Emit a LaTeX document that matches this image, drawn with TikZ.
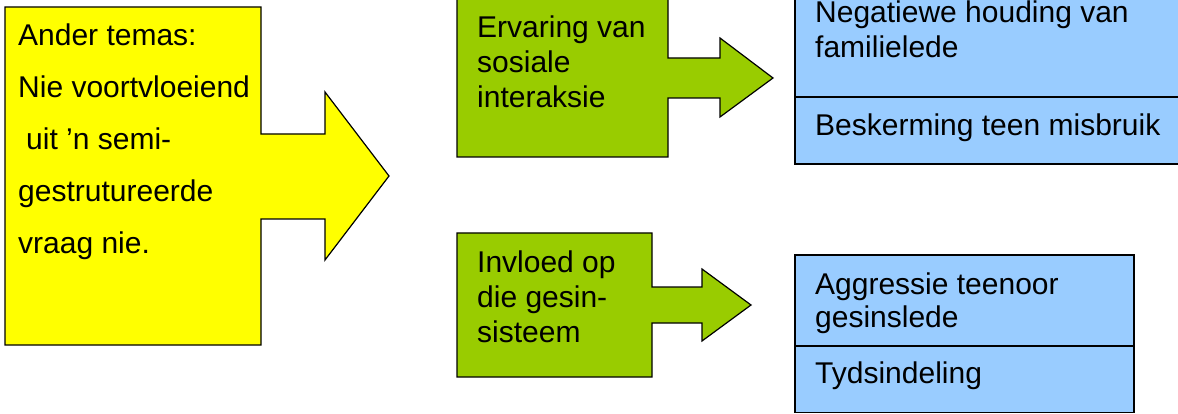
\documentclass[tikz,border=0pt]{standalone}
\usepackage{fontspec}
\setmainfont{Liberation Sans}
\definecolor{geel}{HTML}{FFFF00}
\definecolor{groen}{HTML}{99CC00}
\definecolor{blou}{HTML}{99CCFF}

\begin{document}
\begin{tikzpicture}[x=1pt, y=-1pt, callout/.style = {draw, line width=1.2pt, line join=miter}, cell/.style = {draw, line width=1.2pt, fill=blou}, tekst/.style = {anchor=north west, inner sep=0pt, align=left, font=\fontsize{30}{35}\selectfont}]
	\useasboundingbox (0,0) rectangle (1178,414);
	\clip (0,0) rectangle (1178,414);
	% pyl-vorms
	\draw[callout, fill=geel] (5,7) -- (261,7) -- (261,134) -- (325,134) -- (325,92) -- (389,176) -- (325,260) -- (325,219) -- (261,219) -- (261,345) -- (5,345) -- cycle;
	\draw[callout, fill=groen] (457,-10) -- (668,-10) -- (668,58) -- (720,58) -- (720,38) -- (773,78) -- (720,117) -- (720,98) -- (668,98) -- (668,157) -- (457,157) -- cycle;
	\draw[callout, fill=groen] (457,233) -- (652,233) -- (652,287) -- (702,287) -- (702,269) -- (751,305) -- (702,341) -- (702,323) -- (652,323) -- (652,377) -- (457,377) -- cycle;
	% tabelle
	\draw[cell] (795,-10) rectangle (1190,97);
	\draw[cell] (795,97) rectangle (1190,164);
	\draw[cell] (795,255) rectangle (1134,346);
	\draw[cell] (795,346) rectangle (1134,412.5);
	% tekste
	\node[tekst, font=\fontsize{30}{52}\selectfont] (temas) at (18,24) {Ander temas:\\Nie voortvloeiend\\\hspace*{8pt}uit ’n semi-\\gestrutureerde\\vraag nie.};
	\node[tekst] (ervaring) at (477,15.2) {Ervaring van\\sosiale\\interaksie};
	\node[tekst] (invloed) at (477,250.2) {Invloed op\\die gesin-\\sisteem};
	\node[tekst] (houding) at (815,0.2) {Negatiewe houding van\\familielede};
	\node[tekst] (beskerming) at (815,113.5) {Beskerming teen misbruik};
	\node[tekst, font=\fontsize{30}{33}\selectfont] (aggressie) at (815,272.5) {Aggressie teenoor\\gesinslede};
	\node[tekst] (tydsindeling) at (815,361.8) {Tydsindeling};
\end{tikzpicture}
\end{document}
